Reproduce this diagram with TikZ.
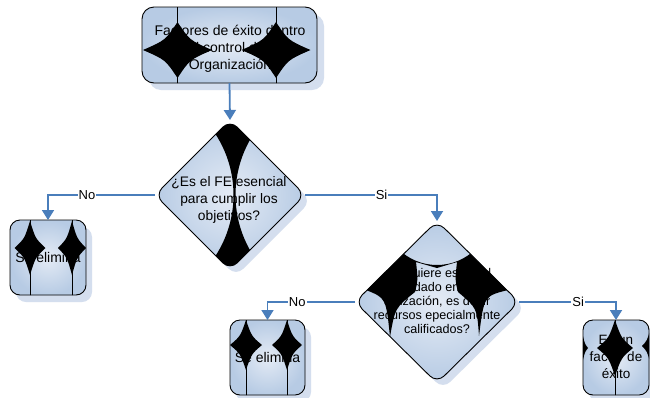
\documentclass[tikz,border=0pt]{standalone}
\usepackage{fontspec}
\setmainfont{Liberation Sans}
\usetikzlibrary{shapes.geometric,arrows.meta,calc}
\definecolor{fillc}{HTML}{B7CBE4}
\definecolor{fillin}{HTML}{E4EBF5}
\definecolor{shadowc}{HTML}{D4DEEE}
\definecolor{arrowc}{HTML}{4A7EBB}
\newcommand\drawstar[4]{%
 \fill[black] ({#1},{#2-#4}) .. controls ({#1+0.35*#3},{#2-0.35*#4}) .. ({#1+#3},{#2})
 .. controls ({#1+0.35*#3},{#2+0.35*#4}) .. ({#1},{#2+#4})
 .. controls ({#1-0.35*#3},{#2+0.35*#4}) .. ({#1-#3},{#2})
 .. controls ({#1-0.35*#3},{#2-0.35*#4}) .. ({#1},{#2-#4}) -- cycle;}
\begin{document}
\begin{tikzpicture}[x=1pt,y=-1pt,
  anchorbox/.style={rectangle,inner sep=0pt,outer sep=0pt},
  anchordia/.style={diamond,inner sep=0pt,outer sep=0pt},
  conn/.style={draw=arrowc,line width=1.8pt,-{Triangle[width=12pt,length=10pt]}},
  lbl/.style={fill=white,inner sep=1pt,text=black,font=\fontsize{13}{15}\selectfont},
  border/.style={draw=black,line width=0.9pt},
  starline/.style={draw=black,line width=0.7pt},
  lightfill/.style={inner color=fillin,outer color=fillc},
  txt/.style={align=center,inner sep=0pt,text=black}]
\fill[white] (0,0) rectangle (650,397);
\useasboundingbox (0,0) rectangle (650,397);
% anchor nodes
\node[anchorbox,minimum width=175pt,minimum height=76pt] (top) at (229.5,45) {};
\node[anchordia,minimum width=150pt,minimum height=150pt] (d1) at (230,195) {};
\node[anchordia,minimum width=164pt,minimum height=162pt] (d2) at (437,302) {};
\node[anchorbox,minimum width=76pt,minimum height=75pt] (se1) at (48,257.5) {};
\node[anchorbox,minimum width=75pt,minimum height=75pt] (se2) at (267.5,357.5) {};
\node[anchorbox,minimum width=66pt,minimum height=75pt] (fe) at (616,357.5) {};
% shadows
\fill[shadowc,rounded corners=12pt] ($(top.north west)+(7,7)$) rectangle ($(top.south east)+(7,7)$);
\fill[shadowc,rounded corners=10pt] ($(se1.north west)+(6,7)$) rectangle ($(se1.south east)+(6,7)$);
\fill[shadowc,rounded corners=10pt] ($(se2.north west)+(6,7)$) rectangle ($(se2.south east)+(6,7)$);
\fill[shadowc,rounded corners=10pt] ($(fe.north west)+(6,7)$) rectangle ($(fe.south east)+(6,7)$);
\fill[shadowc,rounded corners=10pt] ($(d1.north)+(6,6)$) -- ($(d1.east)+(6,6)$) -- ($(d1.south)+(6,6)$) -- ($(d1.west)+(6,6)$) -- cycle;
\fill[shadowc,rounded corners=10pt] ($(d2.north)+(6,6)$) -- ($(d2.east)+(6,6)$) -- ($(d2.south)+(6,6)$) -- ($(d2.west)+(6,6)$) -- cycle;
% top box
\begin{scope}
 \clip[rounded corners=12pt] (top.north west) rectangle (top.south east);
 \shade[lightfill] (top.north west) rectangle (top.south east);
 \drawstar{177.5}{50}{34.5}{28}
 \drawstar{276}{50}{34.5}{28}
 \draw[starline] (177.5,0) -- (177.5,100) (276,0) -- (276,100);
\end{scope}
\draw[border,rounded corners=12pt] (top.north west) rectangle (top.south east);
% diamond 1
\begin{scope}
 \clip[rounded corners=10pt] (d1.north) -- (d1.east) -- (d1.south) -- (d1.west) -- cycle;
 \shade[lightfill] (d1.north) -- (d1.east) -- (d1.south) -- (d1.west) -- cycle;
 \fill[black,even odd rule] (100,100) rectangle (360,290) (121.5,195) circle (112pt) (347.5,195) circle (112pt);
\end{scope}
\draw[border,rounded corners=10pt] (d1.north) -- (d1.east) -- (d1.south) -- (d1.west) -- cycle;
% diamond 2
\begin{scope}
 \clip[rounded corners=10pt] (d2.north) -- (d2.east) -- (d2.south) -- (d2.west) -- cycle;
 \shade[lightfill] (d2.north) -- (d2.east) -- (d2.south) -- (d2.west) -- cycle;
 \begin{scope}
 \clip (345,295) -- (437,205) -- (530,295) -- (508,290) .. controls (484,296) .. (479,336)
   .. controls (477,308) .. (458,292) .. controls (455,280) .. (457,262) -- (437,268) -- (416,262)
   .. controls (418,280) .. (415,292) .. controls (395,308) .. (390,337)
   .. controls (386,298) .. (366,290) -- cycle;
 \fill[black,even odd rule] (340,200) rectangle (540,400) (437,210) circle (55pt);
 \end{scope}
\end{scope}
\draw[border,rounded corners=10pt] (d2.north) -- (d2.east) -- (d2.south) -- (d2.west) -- cycle;
% se1
\begin{scope}
 \clip[rounded corners=10pt] (se1.north west) rectangle (se1.south east);
 \shade[lightfill] (se1.north west) rectangle (se1.south east);
 \drawstar{30}{248}{15.5}{27}
 \drawstar{72}{248}{14}{27}
 \draw[starline] (30,200) -- (30,300) (72,200) -- (72,300);
\end{scope}
\draw[border,rounded corners=10pt] (se1.north west) rectangle (se1.south east);
% se2
\begin{scope}
 \clip[rounded corners=10pt] (se2.north west) rectangle (se2.south east);
 \shade[lightfill] (se2.north west) rectangle (se2.south east);
 \drawstar{246}{345}{16}{25}
 \drawstar{287}{345}{15}{25}
 \draw[starline] (246,300) -- (246,400) (287,300) -- (287,400);
\end{scope}
\draw[border,rounded corners=10pt] (se2.north west) rectangle (se2.south east);
% fe
\begin{scope}
 \clip[rounded corners=10pt] (fe.north west) rectangle (fe.south east);
 \shade[lightfill] (fe.north west) rectangle (fe.south east);
 \drawstar{615}{348}{18}{28}
 \drawstar{583}{348}{5}{12}
 \drawstar{650}{346}{8}{16}
 \draw[starline] (615,300) -- (615,400);
\end{scope}
\draw[border,rounded corners=10pt] (fe.north west) rectangle (fe.south east);
% texts
\node[txt,font=\fontsize{14}{17}\selectfont] (ttop) at (230,49) {Factores de éxito dentro\\del control de la\\Organización};
\node[txt,font=\fontsize{13.8}{17}\selectfont] (td1) at (229,200) {¿Es el FE esencial\\para cumplir los\\objetivos?};
\node[txt,font=\fontsize{12.6}{14}\selectfont] (td2) at (437,301) {¿Requiere especial\\cuidado en su\\utilización, es decir\\recursos epecialmente\\calificados?};
\node[txt,font=\fontsize{14}{17}\selectfont] (tse1) at (48,257) {Se elimina};
\node[txt,font=\fontsize{14}{17}\selectfont] (tse2) at (267.5,357) {Se elimina};
\node[txt,font=\fontsize{13.5}{17}\selectfont] (tfe) at (616,357) {Es un\\factor de\\éxito};
% connectors
\draw[conn] (top.south) -- (d1.north);
\draw[conn] (d1.west) -| node[lbl,pos=0.318] {No} (se1.north);
\draw[conn] (d1.east) -| node[lbl,pos=0.29] {Si} (d2.north);
\draw[conn] (d2.west) -| node[lbl,pos=0.33] {No} (se2.north);
\draw[conn] (d2.east) -| node[lbl,pos=0.305] {Si} (fe.north);
\end{tikzpicture}
\end{document}
